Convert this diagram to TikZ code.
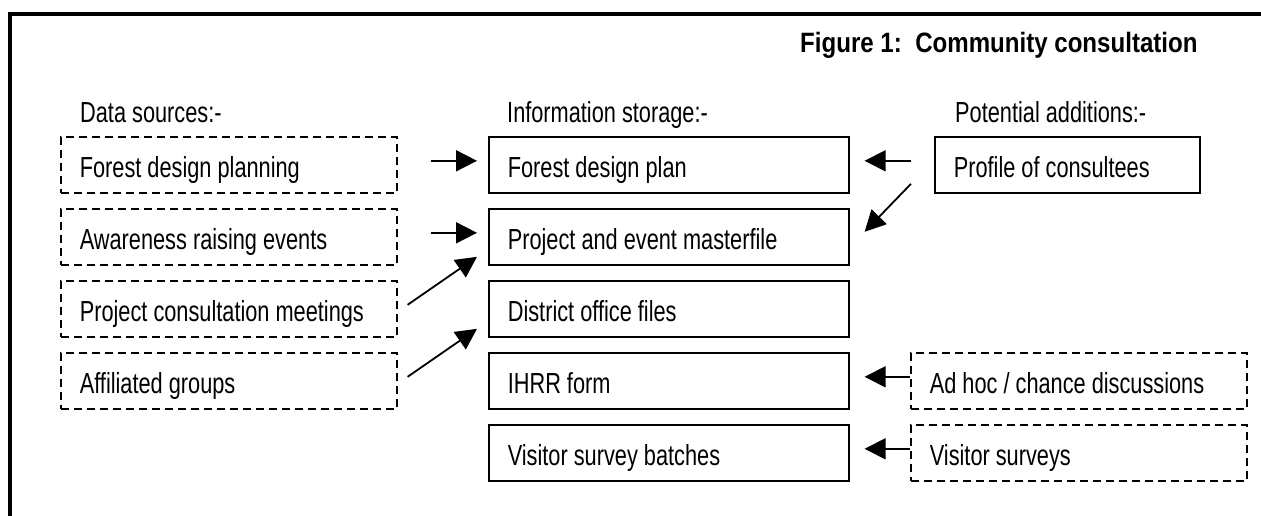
\documentclass[tikz,border=0pt]{standalone}
\usepackage{fontspec}
\setmainfont{Liberation Sans}[FakeStretch=0.75]
\newfontfamily\titlefont{Liberation Sans}[FakeStretch=0.86]
\usetikzlibrary{arrows.meta}
\newcommand{\lbx}[2]{\makebox[#1][l]{#2}}
\tikzset{
  box/.style={draw, line width=1.6pt, minimum height=56pt, inner xsep=19pt, inner ysep=0pt,
    anchor=north west, text height=27pt, text depth=2pt,
    font=\fontsize{29}{34}\selectfont},
  dbox/.style={box, dash pattern=on 8pt off 5pt},
  head/.style={anchor=base west, inner sep=0pt, font=\fontsize{29}{34}\selectfont},
  arr/.style={line width=1.8pt, -{Triangle[length=21pt,width=21pt]}}
}
\begin{document}
\begin{tikzpicture}[x=1pt,y=-1pt]
\useasboundingbox (0,0) rectangle (1261,515);
\fill[white] (0,0) rectangle (1261,515);
\draw[line width=4pt] (10,520) -- (10,14) -- (1270,14);
% title and headings
\node[head, font=\titlefont\bfseries\fontsize{28}{33}\selectfont] (title) at (800,52) {Figure 1:\ \ Community consultation};
\node[head] (hsrc) at (80,122) {Data sources:-};
\node[head] (hsto) at (507,122) {Information storage:-};
\node[head] (hadd) at (955,122) {Potential additions:-};
% data sources
\node[dbox] (s1) at (60,136) {\lbx{298pt}{Forest design planning}};
\node[dbox] (s2) at (60,208) {\lbx{298pt}{Awareness raising events}};
\node[dbox] (s3) at (60,280) {\lbx{298pt}{Project consultation meetings}};
\node[dbox] (s4) at (60,352) {\lbx{298pt}{Affiliated groups}};
% storage
\node[box] (m1) at (488,136) {\lbx{322pt}{Forest design plan}};
\node[box] (m2) at (488,208) {\lbx{322pt}{Project and event masterfile}};
\node[box] (m3) at (488,280) {\lbx{322pt}{District office files}};
\node[box] (m4) at (488,352) {\lbx{322pt}{IHRR form}};
\node[box] (m5) at (488,424) {\lbx{322pt}{Visitor survey batches}};
% additions
\node[box] (p1) at (934,136) {\lbx{227pt}{Profile of consultees}};
\node[dbox] (a1) at (910,352) {\lbx{298pt}{Ad hoc / chance discussions}};
\node[dbox] (a2) at (910,424) {\lbx{298pt}{Visitor surveys}};
% connectors
\draw[arr] ([xshift=33pt,yshift=4pt]s1.east) -- ([xshift=-11pt,yshift=4pt]m1.west);
\draw[arr] ([xshift=33pt,yshift=4pt]s2.east) -- ([xshift=-11pt,yshift=4pt]m2.west);
\draw[arr] ([xshift=10pt,yshift=4pt]s3.east) -- ([xshift=-11pt,yshift=-20pt]m2.west);
\draw[arr] ([xshift=10pt,yshift=4pt]s4.east) -- ([xshift=-11pt,yshift=-20pt]m3.west);
\draw[arr] ([xshift=-23pt,yshift=4pt]p1.west) -- ([xshift=15pt,yshift=4pt]m1.east);
\draw[arr] ([xshift=-23pt,yshift=-19pt]p1.west) -- ([xshift=15pt,yshift=5pt]m2.east);
\draw[arr] ([yshift=4pt]a1.west) -- ([xshift=15pt,yshift=4pt]m4.east);
\draw[arr] ([yshift=4pt]a2.west) -- ([xshift=15pt,yshift=4pt]m5.east);
\end{tikzpicture}
\end{document}
